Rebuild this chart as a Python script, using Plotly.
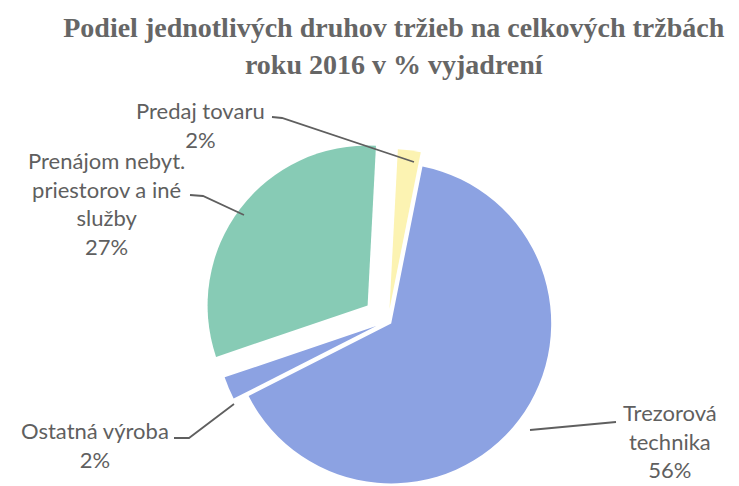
import math
import plotly.graph_objects as go

W, H = 739, 486

labels = ["Predaj tovaru", "Trezorová technika", "Ostatná výroba", "Prenájom nebyt. priestorov a iné služby"]
values = [2, 56, 2, 27]
colors = ["#FCF3B2", "#8CA2E2", "#8CA2E2", "#87CBB5"]
explode = [0.075, 0.025, 0.08, 0.16]

label_texts = ["Predaj tovaru<br>2%", "Trezorová<br>technika<br>56%", "Ostatná výroba<br>2%",
               "Prenájom nebyt.<br>priestorov a iné<br>služby<br>27%"]

title = "Podiel jednotlivých druhov tržieb na celkových tržbách<br>roku 2016 v % vyjadrení"

# pie geometry in pixels
R = 160
cx, cy = 380, 313
rotation = 3


def px(x):
    return x / W


def py(y):
    return 1 - y / H


fig = go.Figure()

total = sum(values)
start = rotation
for i, v in enumerate(values):
    span = v / total * 360
    mid = math.radians(start + span / 2)
    start += span
    ox = cx + explode[i] * R * math.sin(mid)
    oy = cy - explode[i] * R * math.cos(mid)
    slice_colors = [c if j == i else "rgba(0,0,0,0)" for j, c in enumerate(colors)]
    fig.add_trace(go.Pie(
        labels=labels,
        values=values,
        sort=False,
        direction="clockwise",
        rotation=rotation,
        marker=dict(colors=slice_colors, line=dict(width=0)),
        textinfo="none",
        hoverinfo="skip",
        showlegend=False,
        domain=dict(x=[px(ox - R), px(ox + R)], y=[py(oy + R), py(oy - R)]),
    ))

label_pos = [(192, 117), (662, 433), (87, 437), (98, 196)]
for (x, y), t in zip(label_pos, label_texts):
    fig.add_annotation(x=px(x), y=py(y), xref="paper", yref="paper", text=t,
                       showarrow=False, xanchor="center", yanchor="middle",
                       font=dict(family="Lato", size=22, color="#5f5f5f"))

leaders = [
    [(264, 109), (274, 110), (406, 154)],
    [(608, 414), (522, 422)],
    [(166, 430), (181, 430), (226, 396)],
    [(182, 187), (195, 188), (236, 207)],
]
for pts in leaders:
    path = "M " + " L ".join(f"{px(x)},{py(y)}" for x, y in pts)
    fig.add_shape(type="path", path=path, xref="paper", yref="paper",
                  line=dict(color="#5f5f5f", width=1.8))

fig.update_layout(
    width=W, height=H,
    margin=dict(l=0, r=0, t=0, b=0),
    paper_bgcolor="white",
    plot_bgcolor="white",
    title=dict(text="<b>" + title + "</b>", x=0.522, xanchor="center",
               y=0.94, yanchor="top",
               font=dict(family="Liberation Serif", size=28, color="#666666")),
)

fig.write_html("out.html")
